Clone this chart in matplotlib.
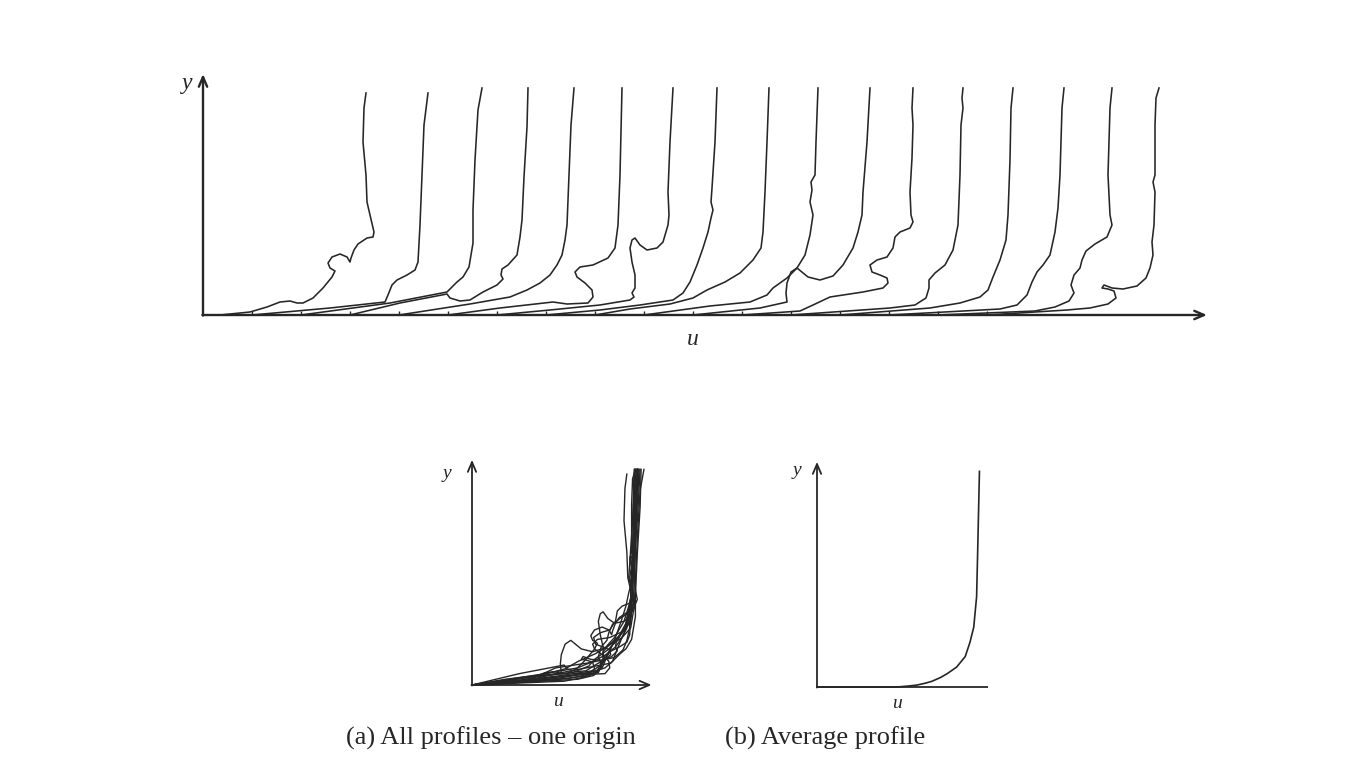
import matplotlib
matplotlib.use("Agg")
import matplotlib.pyplot as plt

# ---------------- data ----------------
# station origins along the wall (distance from the y axis)
station_offsets = [0, 49, 98, 147, 196, 245, 294, 343, 392, 441, 490, 539, 588, 637, 686, 735, 784]

# instantaneous velocity profiles: u measured from each station origin, y above the wall
profile_u = [
    [0, 17, 47, 64, 77, 87, 94, 100, 110, 120, 129, 132, 127, 125, 129, 137, 144, 147, 148, 151, 155, 164, 170, 171, 167, 164, 163, 160, 161, 163],
    [0, 78, 133, 136, 140, 145, 155, 163, 166, 168, 170, 172, 176],
    [0, 89, 146, 151, 156, 162, 168, 172, 172, 174, 177, 181],
    [0, 50, 97, 100, 110, 120, 133, 147, 153, 151, 152, 158, 167, 170, 172, 174, 177, 178],
    [0, 71, 111, 128, 141, 151, 158, 163, 166, 168, 170, 172, 175],
    [0, 52, 105, 119, 140, 145, 144, 137, 129, 127, 132, 145, 160, 167, 170, 172, 174],
    [0, 53, 103, 133, 137, 135, 138, 138, 135, 133, 135, 138, 143, 150, 160, 166, 171, 172, 171, 173, 176],
    [0, 54, 94, 127, 137, 144, 151, 157, 162, 165, 167, 165, 166, 169, 171],
    [0, 35, 75, 98, 112, 130, 145, 158, 166, 168, 170, 172, 174],
    [0, 66, 106, 123, 129, 143, 153, 161, 166, 169, 166, 168, 167, 171, 172, 174],
    [0, 67, 94, 93, 94, 98, 104, 115, 127, 140, 150, 160, 165, 169, 170, 174, 177],
    [0, 58, 71, 88, 121, 141, 146, 145, 138, 130, 128, 135, 145, 151, 153, 158, 168, 171, 169, 168, 170, 171, 170, 171],
    [0, 99, 124, 135, 138, 138, 144, 154, 162, 167, 169, 170, 172, 171, 172],
    [0, 90, 120, 140, 148, 153, 160, 166, 168, 170, 171, 173],
    [0, 111, 128, 138, 143, 148, 154, 161, 166, 169, 171, 173, 175],
    [0, 97, 117, 131, 136, 133, 136, 142, 144, 148, 157, 169, 174, 172, 170, 172, 174],
    [0, 80, 103, 121, 129, 127, 121, 115, 117, 125, 136, 150, 159, 163, 166, 165, 167, 168, 166, 168, 168, 169, 172],
]
profile_y = [
    [0, 0, 3, 8, 13, 14, 12, 12, 17, 27, 38, 44, 47, 52, 58, 61, 58, 53, 57, 65, 71, 77, 78, 83, 100, 113, 140, 173, 207, 222],
    [0, 7, 13, 20, 30, 35, 40, 45, 53, 90, 140, 190, 222],
    [0, 12, 23, 28, 33, 38, 48, 72, 105, 155, 205, 227],
    [0, 12, 21, 17, 14, 15, 23, 30, 36, 40, 46, 50, 60, 78, 95, 138, 188, 227],
    [0, 11, 18, 25, 32, 40, 50, 60, 75, 90, 140, 190, 227],
    [0, 7, 13, 11, 12, 18, 25, 32, 38, 43, 48, 50, 57, 67, 90, 140, 227],
    [0, 5, 10, 15, 18, 22, 27, 40, 53, 67, 75, 77, 70, 65, 67, 73, 90, 100, 123, 173, 227],
    [0, 5, 10, 15, 22, 33, 50, 67, 83, 97, 105, 113, 127, 173, 227],
    [0, 6, 11, 17, 25, 33, 42, 55, 67, 83, 123, 173, 227],
    [0, 9, 13, 20, 27, 37, 47, 60, 80, 100, 113, 125, 133, 140, 173, 227],
    [0, 7, 13, 22, 32, 43, 47, 38, 35, 39, 50, 67, 83, 100, 123, 173, 227],
    [0, 4, 10, 18, 23, 27, 32, 37, 40, 43, 50, 55, 58, 67, 78, 83, 87, 93, 100, 123, 157, 190, 207, 227],
    [0, 7, 10, 17, 27, 35, 42, 50, 65, 90, 140, 190, 207, 217, 227],
    [0, 7, 12, 18, 25, 38, 55, 75, 100, 155, 207, 227],
    [0, 6, 10, 20, 33, 43, 50, 60, 83, 107, 140, 207, 227],
    [0, 4, 8, 14, 22, 30, 40, 47, 55, 64, 71, 78, 90, 100, 140, 207, 227],
    [0, 5, 7, 11, 17, 24, 26, 27, 30, 27, 26, 29, 37, 47, 60, 73, 90, 123, 133, 140, 190, 217, 227],
]

# time-averaged profile
mean_u = [0, 60, 84, 96, 105, 114, 121, 130, 137, 147, 156, 161, 165, 168, 169, 171]
mean_y = [0, 0, 0, 1, 2, 4, 6, 10, 14, 21, 32, 47, 63, 95, 137, 227]

# ---------------- layout / style ----------------
W, H = 1354, 780
INK = "#262626"
SERIF = ["Liberation Serif", "DejaVu Serif"]

fig = plt.figure(figsize=(W / 100, H / 100), dpi=100)
fig.patch.set_facecolor("white")


def make_axes(ox, oy, scale, xlim, ylim):
    """axes whose data origin lands on pixel (ox, oy) with `scale` px per unit"""
    left = (ox + xlim[0] * scale) / W
    width = (xlim[1] - xlim[0]) * scale / W
    bottom = (H - (oy - ylim[0] * scale)) / H
    height = (ylim[1] - ylim[0]) * scale / H
    ax = fig.add_axes([left, bottom, width, height])
    ax.set_xlim(*xlim)
    ax.set_ylim(*ylim)
    ax.axis("off")
    return ax


def axis_arrows(ax, xtip, ytip, xarrow=True, lw=1.5):
    style = "->,head_length=0.7,head_width=0.3"
    ax.annotate("", xy=(0, ytip), xytext=(0, -0.6), annotation_clip=False,
                arrowprops=dict(arrowstyle=style, lw=lw, color=INK, shrinkA=0, shrinkB=0))
    if xarrow:
        ax.annotate("", xy=(xtip, 0), xytext=(-0.6, 0), annotation_clip=False,
                    arrowprops=dict(arrowstyle=style, lw=lw, color=INK, shrinkA=0, shrinkB=0))
    else:
        ax.plot([0, xtip], [0, 0], color=INK, lw=lw, solid_capstyle="butt")


# ---- top panel: profiles at successive stations ----
ax_top = make_axes(203, 315, 1.0, (-10, 1020), (-10, 250))
for off, us, ys in zip(station_offsets, profile_u, profile_y):
    ax_top.plot([off + u for u in us], ys, color=INK, lw=1.15,
                solid_joinstyle="round", clip_on=False)
ax_top.vlines(station_offsets[1:], 0, 4, color=INK, lw=1.0)
axis_arrows(ax_top, 1004, 241, lw=1.7)
ax_top.text(-16, 231, "y", fontsize=17, fontstyle="italic", family=SERIF,
            ha="center", va="center", color=INK)
ax_top.text(490, -25, "u", fontsize=17, fontstyle="italic", family=SERIF,
            ha="center", va="center", color=INK)

# ---- (a) all profiles from one origin ----
ax_a = make_axes(472, 685, 0.95, (-10, 200), (-10, 250))
for us, ys in zip(profile_u, profile_y):
    ax_a.plot(us, ys, color=INK, lw=1.0, solid_joinstyle="round", clip_on=False)
axis_arrows(ax_a, 189, 237, lw=1.3)
ax_a.text(-26, 223, "y", fontsize=14, fontstyle="italic", family=SERIF,
          ha="center", va="center", color=INK)
ax_a.text(90, -17, "u", fontsize=14, fontstyle="italic", family=SERIF,
          ha="center", va="center", color=INK)

# ---- (b) average profile ----
ax_b = make_axes(817, 687, 0.95, (-10, 200), (-10, 250))
ax_b.plot(mean_u, mean_y, color=INK, lw=1.2, clip_on=False)
axis_arrows(ax_b, 180, 237, xarrow=False, lw=1.3)
ax_b.text(-21, 228, "y", fontsize=14, fontstyle="italic", family=SERIF,
          ha="center", va="center", color=INK)
ax_b.text(84, -17, "u", fontsize=14, fontstyle="italic", family=SERIF,
          ha="center", va="center", color=INK)

fig.text(491 / W, 1 - 738 / H, "(a) All profiles \u2013 one origin", fontsize=19,
         family=SERIF, ha="center", va="center", color=INK)
fig.text(825 / W, 1 - 738 / H, "(b) Average profile", fontsize=19,
         family=SERIF, ha="center", va="center", color=INK)

fig.savefig("out.png", dpi=100, facecolor="white")
